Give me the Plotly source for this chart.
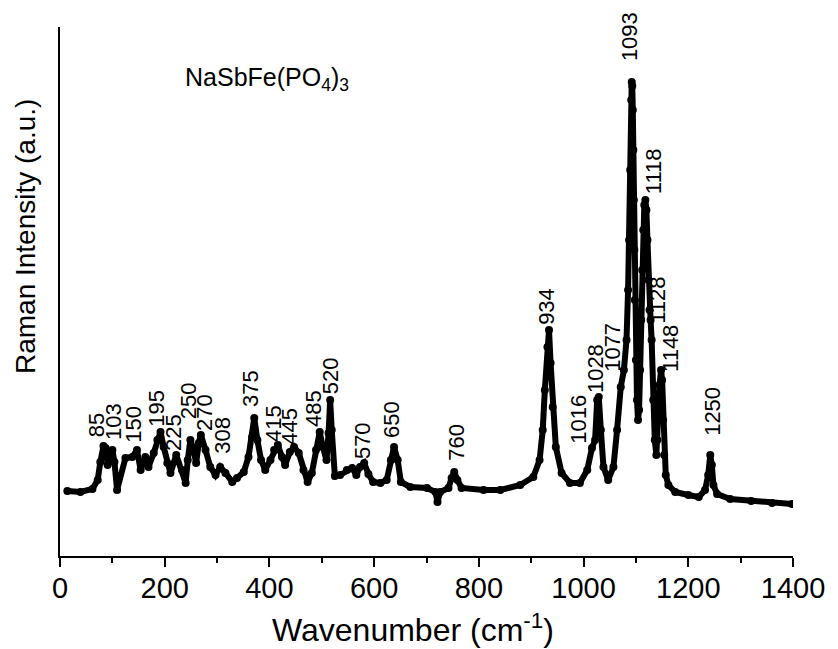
import plotly.graph_objects as go

# Spectrum (wavenumber in cm-1, intensity in arbitrary units)
wavenumber = [14, 39, 62, 72, 77, 83, 87, 91, 96, 100, 104, 109, 125, 138, 147, 154, 163, 169,
              179, 186, 192, 198, 205, 211, 222, 233, 240, 244, 249, 255, 260, 265, 269, 278,
              287, 297, 306, 316, 329, 338, 351, 360, 367, 371, 377, 384, 392, 402, 409, 416,
              424, 430, 439, 447, 456, 465, 473, 481, 489, 496, 502, 509, 513, 516, 519, 525,
              535, 548, 558, 566, 573, 581, 589, 598, 612, 624, 632, 638, 645, 651, 669, 701,
              717, 721, 726, 742, 748, 753, 759, 767, 809, 841, 879, 904, 916, 922, 926, 931,
              934, 937, 941, 947, 958, 974, 993, 1007, 1016, 1022, 1026, 1029, 1033, 1038,
              1047, 1057, 1064, 1071, 1077, 1082, 1085, 1087, 1089, 1091, 1092, 1093, 1094,
              1095, 1096, 1097, 1098, 1100, 1102, 1104, 1106, 1108, 1110, 1112, 1114, 1116,
              1118, 1120, 1122, 1124, 1126, 1128, 1130, 1133, 1136, 1139, 1141, 1143, 1145,
              1148, 1150, 1152, 1154, 1157, 1162, 1175, 1200, 1220, 1232, 1238, 1242, 1245,
              1248, 1255, 1280, 1320, 1360, 1398]
intensity = [65, 64, 67, 76, 94, 110, 108, 91, 101, 106, 94, 66, 98, 99, 106, 86, 99, 89,
             103, 116, 124, 109, 93, 83, 101, 86, 73, 96, 116, 106, 93, 113, 121, 106,
             89, 81, 89, 83, 74, 78, 84, 99, 119, 138, 116, 96, 86, 96, 106, 111,
             99, 91, 104, 109, 103, 86, 74, 83, 106, 124, 109, 96, 123, 156, 126, 80,
             81, 86, 88, 81, 89, 93, 82, 74, 73, 76, 96, 109, 96, 74, 69, 68,
             64, 54, 64, 68, 78, 84, 76, 68, 66, 66, 71, 79, 96, 126, 166, 209,
             226, 193, 149, 109, 83, 73, 73, 86, 108, 116, 156, 159, 126, 89,
             76, 89, 126, 169, 186, 216, 266, 316, 386, 456, 474, 470, 446,
             406, 356, 306, 256, 196, 156, 136, 146, 186, 236, 286, 326, 351,
             356, 346, 316, 276, 246, 236, 216, 156, 116, 101, 116, 146, 171,
             186, 176, 136, 101, 81, 71, 64, 61, 59, 66, 81, 101, 91,
             71, 62, 57, 55, 53, 52]

# Peak labels and where they sit (data units)
peak_labels = ["85", "103", "150", "195", "225", "250", "270", "308", "375", "415", "445",
               "485", "520", "570", "650", "760", "934", "1016", "1028", "1077", "1093",
               "1118", "1128", "1148", "1250"]
label_x = [69, 101, 139, 183, 216, 245, 275, 309, 363, 407, 437, 483, 516, 577, 632, 756,
           928, 989, 1022, 1054, 1087, 1133, 1140, 1165, 1245]
label_y = [131, 135, 132, 148, 123, 155, 144, 121, 167, 132, 130, 148, 180, 115, 137, 114,
           250, 137, 187, 209, 519, 385, 256, 208, 145]

x_ticks = [0, 200, 400, 600, 800, 1000, 1200, 1400]

FONT = "Arial, Liberation Sans, sans-serif"

fig = go.Figure()
fig.add_trace(go.Scatter(
    x=wavenumber, y=intensity, mode="lines+markers",
    line=dict(color="black", width=6),
    marker=dict(color="black", size=8),
    showlegend=False, hoverinfo="skip"))

annotations = []
for t, lx, ly in zip(peak_labels, label_x, label_y):
    annotations.append(dict(x=lx, y=ly, xref="x", yref="y", text=t, showarrow=False,
                            textangle=-90, xanchor="center", yanchor="middle",
                            font=dict(family=FONT, size=22, color="black")))

annotations.append(dict(x=0.168, y=0.935, xref="paper", yref="paper",
                        text="NaSbFe(PO<sub>4</sub>)<sub>3</sub>", showarrow=False,
                        xanchor="left", yanchor="top",
                        font=dict(family=FONT, size=25, color="black")))
annotations.append(dict(x=0.4816, y=-0.136, xref="paper", yref="paper",
                        text="Wavenumber (cm<sup>-1</sup>)", showarrow=False,
                        xanchor="center", yanchor="middle",
                        font=dict(family=FONT, size=32, color="black")))
annotations.append(dict(x=-0.0477, y=0.603, xref="paper", yref="paper",
                        text="Raman Intensity (a.u.)", showarrow=False, textangle=-90,
                        xanchor="center", yanchor="middle",
                        font=dict(family=FONT, size=28, color="black")))

fig.update_layout(
    width=838, height=649,
    margin=dict(l=60, r=45, t=27, b=93),
    paper_bgcolor="white", plot_bgcolor="white",
    annotations=annotations,
    xaxis=dict(range=[0, 1400], tickvals=x_ticks, ticktext=[str(v) for v in x_ticks],
               showline=True, linecolor="black", linewidth=2, showgrid=False, zeroline=False,
               ticks="outside", ticklen=9, tickwidth=2, tickcolor="black",
               ticklabelstandoff=-4,
               minor=dict(dtick=100, ticks="outside", ticklen=5, tickwidth=2, tickcolor="black"),
               tickfont=dict(family=FONT, size=29, color="black")),
    yaxis=dict(range=[0, 529], showline=True, linecolor="black", linewidth=2,
               showgrid=False, zeroline=False, showticklabels=False, ticks=""),
)

fig.write_html("out.html")
